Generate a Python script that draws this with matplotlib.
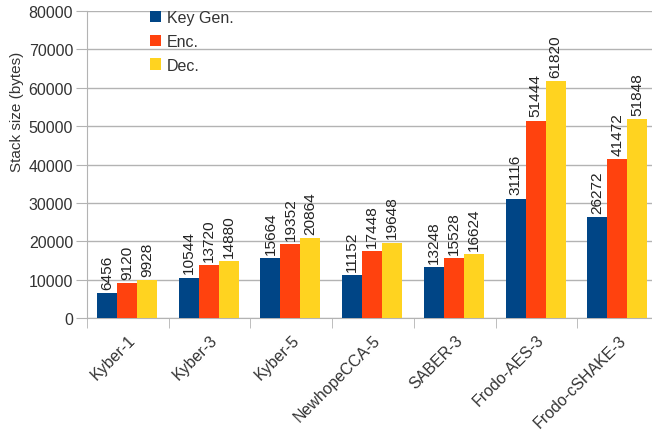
import matplotlib
matplotlib.use("Agg")
import matplotlib.pyplot as plt
import numpy as np

plt.rcParams['font.family'] = ['Liberation Sans', 'DejaVu Sans']

categories = ["Kyber-1", "Kyber-3", "Kyber-5", "NewhopeCCA-5", "SABER-3", "Frodo-AES-3", "Frodo-cSHAKE-3"]
keygen = [6456, 10544, 15664, 11152, 13248, 31116, 26272]
enc = [9120, 13720, 19352, 17448, 15528, 51444, 41472]
dec = [9928, 14880, 20864, 19648, 16624, 61820, 51848]
series_names = ["Key Gen.", "Enc.", "Dec."]
colors = ["#004586", "#ff420e", "#ffd320"]
yticks = [0, 10000, 20000, 30000, 40000, 50000, 60000, 70000, 80000]

fig = plt.figure(figsize=(6.52, 4.31), dpi=100)
ax = fig.add_axes([87/652, 1-319/431, 572/652, (319-12)/431])

x = np.arange(len(categories))
w = 0.245
text_color = "#333333"
for i, (vals, name, c) in enumerate(zip([keygen, enc, dec], series_names, colors)):
    pos = x + (i - 1) * w - 0.01
    ax.bar(pos, vals, width=w, color=c, label=name, zorder=3, linewidth=0)
    for p, v in zip(pos, vals):
        ax.text(p, v + 1100, str(v), rotation=90, ha='center', va='bottom',
                fontsize=11.1, color='#222222', zorder=4)

ax.set_xlim(-0.5, len(categories) - 0.5)
ax.set_ylim(0, 80000)
ax.set_yticks(yticks)
ax.set_yticklabels([str(t) for t in yticks], fontsize=11.5, color=text_color)
ax.yaxis.grid(True, color="#b3b3b3", linewidth=1, zorder=0)
ax.tick_params(axis='y', length=8, color="#b3b3b3", pad=2)

ax.set_xticks(x)
ax.set_xticklabels(categories, rotation=45, ha='right', rotation_mode='anchor',
                   fontsize=11.5, color=text_color)
ax.tick_params(axis='x', length=0, pad=10)
ax.set_xticks(np.arange(-0.5, len(categories), 1), minor=True)
ax.tick_params(axis='x', which='minor', length=7, color="#b3b3b3")

for s in ['top', 'right']:
    ax.spines[s].set_visible(False)
for s in ['left', 'bottom']:
    ax.spines[s].set_color("#b3b3b3")

ax.set_ylabel("Stack size (bytes)", fontsize=11, color=text_color)
ax.yaxis.set_label_coords(-0.11, (319-112)/307)

leg = ax.legend(loc='upper left', bbox_to_anchor=(0.085, 1.05), frameon=False,
                fontsize=11.5, handlelength=0.7, handleheight=0.7, handletextpad=0.35,
                labelspacing=0.55, labelcolor=text_color)

fig.savefig("out.png", dpi=100)
